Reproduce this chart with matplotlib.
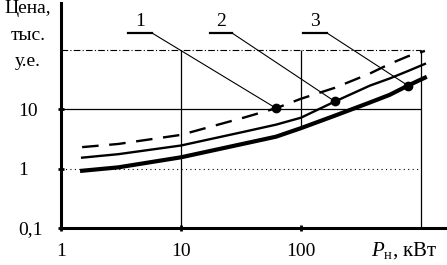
import matplotlib
matplotlib.use("Agg")
import matplotlib.pyplot as plt
from matplotlib.lines import Line2D

plt.rcParams['font.family'] = ['Liberation Serif', 'DejaVu Serif']
plt.rcParams['mathtext.fontset'] = 'custom'
plt.rcParams['mathtext.rm'] = 'Liberation Serif'
plt.rcParams['mathtext.it'] = 'Liberation Serif:italic'

# power, kW
power = [1.5, 3, 10, 34, 62, 100, 192, 376, 550, 780, 1080]
# price, thousand c.u.
price_1 = [2.3, 2.6, 3.7, 7.3, 10.4, 15, 23, 40, 58, 78, 96]      # dashed
price_2 = [1.53, 1.75, 2.45, 4.2, 5.5, 7.2, 13.5, 25, 33, 44, 58]  # thin solid
price_3 = [0.92, 1.05, 1.55, 2.65, 3.45, 4.8, 7.8, 13, 17.5, 25, 34]  # thick solid

# points picked out by the numbered leaders
marks_x = [62, 192, 780]
marks_y = [10.4, 13.5, 25]
mark_labels = ['1', '2', '3']

yticks = [0.1, 1, 10]
ytick_labels = ['0,1', '1', '10']
xticks = [1, 10, 100]
xtick_labels = ['1', '10', '100']

fig = plt.figure(figsize=(4.47, 2.65), dpi=100)
ax = fig.add_axes([61 / 447, 37 / 265, 386 / 447, 225 / 265])
ax.set_xscale('log')
ax.set_yscale('log')
ax.set_xlim(1, 1650)
ax.set_ylim(0.1, 615)

# reference lines
ax.hlines(100, 1, 1000, colors='black', lw=0.8, linestyles=(0, (6, 2, 1, 2)))
ax.hlines(10, 1, 1000, colors='black', lw=0.9)
ax.hlines(1, 1, 1000, colors='black', lw=0.8, linestyles=(0, (1, 3)))
ax.vlines(10, 0.1, 100, colors='black', lw=0.9)
ax.vlines(100, 4.8, 100, colors='black', lw=0.9)
ax.vlines(1000, 0.1, 100, colors='black', lw=0.9)

ax.plot(power, price_1, color='black', lw=1.7, dashes=(7, 4.5))
ax.plot(power, price_2, color='black', lw=1.7)
ax.plot(power, price_3, color='black', lw=3.0)
ax.plot(marks_x, marks_y, 'o', color='black', ms=6)

for s in ['top', 'right']:
    ax.spines[s].set_visible(False)
for s in ['left', 'bottom']:
    ax.spines[s].set_linewidth(2.2)

ax.set_yticks(yticks)
ax.set_yticklabels(ytick_labels)
ax.set_xticks(xticks)
ax.set_xticklabels(xtick_labels)
ax.minorticks_off()
ax.tick_params(axis='both', direction='inout', length=4, width=2, labelsize=14)
ax.tick_params(axis='y', pad=29)
ax.tick_params(axis='x', pad=9)
for t in ax.get_yticklabels():
    t.set_horizontalalignment('left')

# numbered leaders with underlined labels
label_x = [(128, 152), (210, 232), (303, 327)]
for (x0, x1), mx, my, lab in zip(label_x, marks_x, marks_y, mark_labels):
    fig.add_artist(Line2D([x0, x1], [232, 232], transform=None, color='black', lw=1.6))
    fig.text((x0 + x1) / 2 / 447, 235 / 265, lab, ha='center', va='bottom', fontsize=14)
    ax.annotate('', xy=(mx, my), xytext=(x1, 232), textcoords='figure pixels',
                arrowprops=dict(arrowstyle='-', lw=0.8, color='black',
                                shrinkA=0, shrinkB=0))

fig.text(28 / 447, 1.0, 'Цена,\nтыс.\nу.е.', ha='center', va='top',
         fontsize=14, linespacing=1.75)
fig.text(371 / 447, 14 / 265, r'$\mathit{P}_{\mathrm{н}}$, кВт', ha='left',
         va='center', fontsize=15)

fig.savefig('out.png', dpi=100)
